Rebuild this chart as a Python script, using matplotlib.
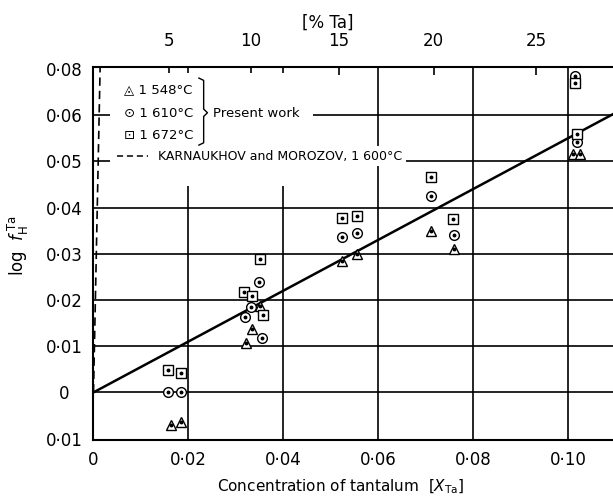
"""log f_H^Ta versus tantalum concentration (scan re-drawn)"""
import matplotlib
matplotlib.use('Agg')
import matplotlib.pyplot as plt
from matplotlib.patches import Rectangle
import numpy as np

plt.rcParams['font.family'] = ['DejaVu Sans']
plt.rcParams['mathtext.fontset'] = 'dejavusans'

# ---- data ----
tri_x = [0.0163, 0.0184, 0.0321, 0.0334, 0.0351, 0.0523, 0.0554, 0.0710, 0.0760, 0.1009, 0.1024]
tri_y = [-0.0070, -0.0063, 0.0107, 0.0138, 0.0187, 0.0284, 0.0300, 0.0349, 0.0311, 0.0516, 0.0516]

cir_x = [0.0157, 0.0184, 0.0331, 0.0349, 0.0320, 0.0354, 0.0523, 0.0554, 0.0710, 0.0759, 0.1014, 0.1019]
cir_y = [0.0, 0.0, 0.0184, 0.0239, 0.0164, 0.0117, 0.0337, 0.0344, 0.0425, 0.0340, 0.0685, 0.0542]

sq_x = [0.0157, 0.0184, 0.0316, 0.0334, 0.0351, 0.0356, 0.0523, 0.0554, 0.0711, 0.0758, 0.1014, 0.1018]
sq_y = [0.0048, 0.0041, 0.0218, 0.0209, 0.0289, 0.0168, 0.0378, 0.0382, 0.0467, 0.0376, 0.0669, 0.0560]

fit_x = [0.0, 0.1094]
fit_y = [0.0, 0.0602]

karn_x = [0.0, 0.0014]
karn_y = [0.0, 0.0704]

x_ticks = [0.0, 0.02, 0.04, 0.06, 0.08, 0.10]
x_labels = ['0', '0·02', '0·04', '0·06', '0·08', '0·10']
y_ticks = [-0.01, 0.0, 0.01, 0.02, 0.03, 0.04, 0.05, 0.06, 0.07]
y_labels = ['0·01', '0', '0·01', '0·02', '0·03', '0·04', '0·05', '0·06', '0·08']
wt_ticks = [5, 10, 15, 20, 25]

M_FE, M_TA = 55.85, 180.95

def x_to_wt(x):
    x = np.asarray(x, dtype=float)
    return 100 * x * M_TA / (x * M_TA + (1 - x) * M_FE)

def wt_to_x(w):
    w = np.asarray(w, dtype=float)
    return (w / M_TA) / (w / M_TA + (100 - w) / M_FE)

fig = plt.figure(figsize=(6.13, 4.97), dpi=100)
ax = fig.add_axes([0.1525, 0.1147, 0.8475, 0.7505])
ax.set_xlim(0, 0.1094)
ax.set_ylim(-0.0103, 0.0704)

# grid (hand drawn look)
for v in x_ticks[1:]:
    ax.axvline(v, color='k', lw=1.2, zorder=1)
for h in y_ticks[1:-1]:
    ax.axhline(h, color='k', lw=1.2, zorder=1)

# white area behind the key
ax.add_patch(Rectangle((0.0035, 0.0446), 0.0428, 0.0244, facecolor='white',
                       edgecolor='none', zorder=1.5))

# fitted line and Karnaukhov-Morozov line
ax.plot(fit_x, fit_y, color='k', lw=1.8, zorder=3)
ax.plot(karn_x, karn_y, color='k', lw=1.2, ls=(0, (5, 3)), zorder=3)

# data points
mk = dict(ls='none', mfc='white', mec='k', mew=1.0, zorder=4)
ax.plot(tri_x, tri_y, marker='^', ms=7.5, **mk)
ax.plot(cir_x, cir_y, marker='o', ms=7, **mk)
ax.plot(sq_x, sq_y, marker='s', ms=6.5, **mk)
for xs, ys in [(tri_x, tri_y), (cir_x, cir_y), (sq_x, sq_y)]:
    ax.plot(xs, ys, ls='none', marker='o', ms=1.8, color='k', zorder=5)

# key
ax.text(0.0065, 0.0655, '◬ 1 548°C', fontsize=9.5, va='center', zorder=3)
ax.text(0.0065, 0.0603, '⊙ 1 610°C', fontsize=9.5, va='center', zorder=3)
ax.text(0.0065, 0.0556, '⊡ 1 672°C', fontsize=9.5, va='center', zorder=3)
bx0, bx1, bx2 = 0.0222, 0.0232, 0.0240
yt, ym, yb = 0.0680, 0.0605, 0.0535
ax.plot([bx0, bx1, bx1, bx2, bx1, bx1, bx0],
        [yt, yt - 0.0005, ym + 0.0008, ym, ym - 0.0008, yb + 0.0005, yb],
        color='k', lw=1.0, zorder=3)
ax.text(0.0252, 0.0603, 'Present work', fontsize=9.5, va='center', zorder=3)
ax.plot([0.0050, 0.0115], [0.0511, 0.0511], color='k', lw=1.1, ls=(0, (4, 2.5)), zorder=3)
ax.text(0.0136, 0.0511, 'KARNAUKHOV and MOROZOV, 1 600°C', fontsize=9, va='center',
        zorder=1.6, bbox=dict(facecolor='white', edgecolor='none', pad=2.5))

# axes styling
ax.spines['right'].set_visible(False)
for s in ['left', 'bottom', 'top']:
    ax.spines[s].set_linewidth(1.5)
ax.set_xticks(x_ticks)
ax.set_xticklabels(x_labels)
ax.set_yticks(y_ticks)
ax.set_yticklabels(y_labels)
ax.tick_params(axis='x', length=0, labelsize=12, pad=8)
ax.tick_params(axis='y', length=0, labelsize=12, pad=21)
for t in ax.get_yticklabels():
    t.set_horizontalalignment('center')

sec = ax.secondary_xaxis('top', functions=(x_to_wt, wt_to_x))
sec.set_xticks(wt_ticks)
sec.tick_params(direction='in', length=6, width=1.2, labelsize=12, pad=12)
sec.spines['top'].set_visible(False)

ax.set_xlabel(r'Concentration of tantalum  $[X_{\rm Ta}]$', fontsize=11)
ax.xaxis.set_label_coords(0.476, -0.10)
ax.set_ylabel(r'log  $f_{\rm H}^{\,\rm Ta}$', fontsize=12)
ax.yaxis.set_label_coords(-0.12, 0.52)
fig.text(0.535, 0.954, '[% Ta]', fontsize=12, ha='center', va='center')

fig.savefig('out.png', dpi=100, facecolor='white')
